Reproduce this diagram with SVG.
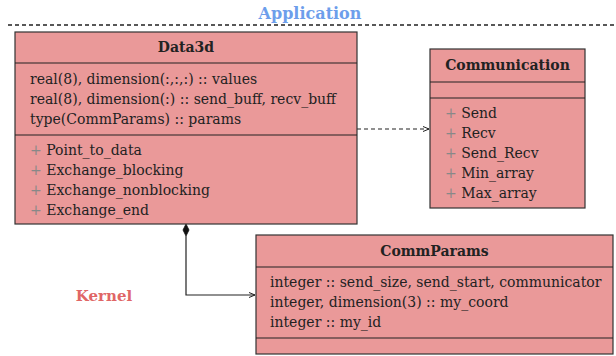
<svg xmlns="http://www.w3.org/2000/svg" width="616" height="356" viewBox="0 0 616 356">
<style>
.box{fill:#ea9999;stroke:#333;stroke-width:1.2}
.div{stroke:#222;stroke-width:1.2}
text{font-family:'DejaVu Serif','Liberation Serif',serif;font-size:14px;fill:#222}
.t{font-weight:bold;text-anchor:middle}
.p{fill:#888}
.con{fill:none;stroke:#222;stroke-width:1.2}
</style>
<defs>
<marker id="open" markerWidth="8" markerHeight="8" refX="7" refY="4" orient="auto" markerUnits="userSpaceOnUse">
<path d="M1,1.5 L7,4 L1,6.5" fill="none" stroke="#222" stroke-width="1"/>
</marker>
</defs>
<text x="310" y="19" style="fill:#6d9eeb;font-size:16px;font-weight:bold;text-anchor:middle">Application</text>
<line x1="8" y1="25" x2="616" y2="25" stroke="#222" stroke-width="1.5" stroke-dasharray="4,3"/>
<text x="104" y="301" style="fill:#e06666;font-size:15px;font-weight:bold;text-anchor:middle">Kernel</text>
<g id="connectors">
<path class="con" d="M357,129 L429,129" stroke-dasharray="4,3" marker-end="url(#open)"/>
<path class="con" d="M186,236 L186,295 L255,295" marker-end="url(#open)"/>
<path d="M186,224 L189,230 L186,236 L183,230 Z" fill="#111" stroke="#111" stroke-width="0.8"/>
</g>
<g id="Data3d">
<rect class="box" x="15" y="32" width="342" height="192"/>
<line class="div" x1="15" y1="63" x2="357" y2="63"/>
<line class="div" x1="15" y1="135" x2="357" y2="135"/>
<text class="t" x="186" y="52">Data3d</text>
<text x="30" y="84">real(8), dimension(:,:,:) :: values</text>
<text x="30" y="104">real(8), dimension(:) :: send_buff, recv_buff</text>
<text x="30" y="124">type(CommParams) :: params</text>
<text x="30" y="155"><tspan class="p">+</tspan> Point_to_data</text>
<text x="30" y="175"><tspan class="p">+</tspan> Exchange_blocking</text>
<text x="30" y="195"><tspan class="p">+</tspan> Exchange_nonblocking</text>
<text x="30" y="215"><tspan class="p">+</tspan> Exchange_end</text>
</g>
<g id="Communication">
<rect class="box" x="430" y="49" width="155" height="159"/>
<line class="div" x1="430" y1="82" x2="585" y2="82"/>
<line class="div" x1="430" y1="98" x2="585" y2="98"/>
<text class="t" x="507.5" y="70">Communication</text>
<text x="445" y="118"><tspan class="p">+</tspan> Send</text>
<text x="445" y="138"><tspan class="p">+</tspan> Recv</text>
<text x="445" y="158"><tspan class="p">+</tspan> Send_Recv</text>
<text x="445" y="178"><tspan class="p">+</tspan> Min_array</text>
<text x="445" y="198"><tspan class="p">+</tspan> Max_array</text>
</g>
<g id="CommParams">
<rect class="box" x="256" y="235" width="357" height="119"/>
<line class="div" x1="256" y1="267" x2="613" y2="267"/>
<line class="div" x1="256" y1="338" x2="613" y2="338"/>
<text class="t" x="434.5" y="256">CommParams</text>
<text x="270" y="287">integer :: send_size, send_start, communicator</text>
<text x="270" y="307">integer, dimension(3) :: my_coord</text>
<text x="270" y="327">integer :: my_id</text>
</g>
</svg>
